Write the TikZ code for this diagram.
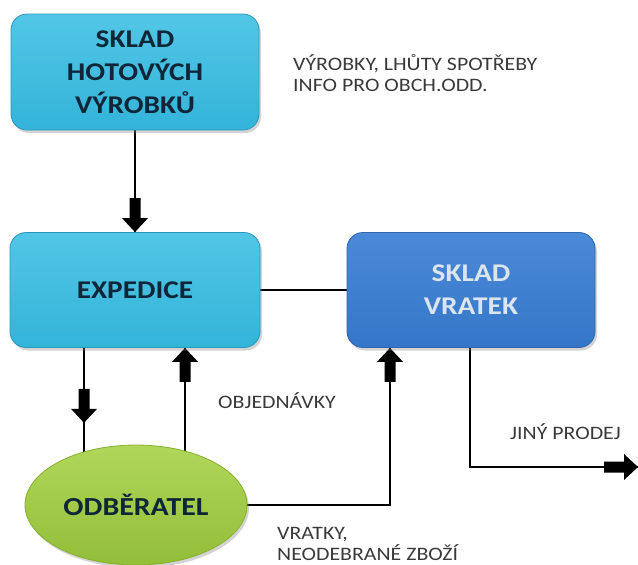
\documentclass[tikz,border=0pt]{standalone}
\usepackage{fontspec}
\setmainfont{Carlito}[FakeStretch=1.15]
\usetikzlibrary{shapes.geometric,shadows,decorations.markings}
\definecolor{cyanbox}{HTML}{33B4D9}
\definecolor{cyantop}{HTML}{52C6E6}
\definecolor{cyanedge}{HTML}{2A98BD}
\definecolor{bluebox}{HTML}{3676C8}
\definecolor{bluetop}{HTML}{4A8AD8}
\definecolor{blueedge}{HTML}{2E67B0}
\definecolor{greenbox}{HTML}{92BE38}
\definecolor{greentop}{HTML}{B0D65A}
\definecolor{greenedge}{HTML}{86B02E}
\definecolor{darktext}{HTML}{0F2638}
\definecolor{lighttext}{HTML}{DCE4EE}
\definecolor{labeltext}{HTML}{3A3A3A}
\pgfdeclarelayer{background}
\pgfsetlayers{background,main}
\tikzset{
  boxbase/.style={rounded corners=16pt, font=\fontsize{25.5}{33}\selectfont\bfseries, align=center,
    inner sep=0pt, drop shadow={opacity=0.35, shadow xshift=2pt, shadow yshift=-3pt}},
  cyanbox/.style={boxbase, draw=cyanedge, line width=0.8pt, top color=cyantop, bottom color=cyanbox, text=darktext},
  bluebox/.style={boxbase, draw=blueedge, line width=0.8pt, top color=bluetop, bottom color=bluebox, text=lighttext},
  greenell/.style={ellipse, inner sep=0pt, draw=greenedge, line width=0.8pt, top color=greentop, bottom color=greenbox,
    text=darktext, font=\fontsize{26}{33}\selectfont\bfseries,
    drop shadow={opacity=0.35, shadow xshift=2pt, shadow yshift=-3pt}},
  conn/.style={draw=black, line width=1.6pt},
  blockarrow/.style={postaction={decorate, decoration={markings, mark=at position #1 with {
    \fill[black] (-34pt,-5.5pt) -- (-14pt,-5.5pt) -- (-14pt,-13pt) -- (0pt,0pt) -- (-14pt,13pt) -- (-14pt,5.5pt) -- (-34pt,5.5pt) -- cycle;}}}},
  lbl/.style={anchor=west, inner sep=0pt, text=labeltext, font=\fontsize{19}{21}\selectfont, align=left}
}
\begin{document}
\begin{tikzpicture}[x=1pt,y=-1pt]
\useasboundingbox (0,0) rectangle (638,565);
\node[cyanbox, minimum width=248pt, minimum height=116pt] (sk) at (135,72) {SKLAD\\HOTOVÝCH\\VÝROBKŮ};
\node[cyanbox, minimum width=250pt, minimum height=115pt] (exp) at (135,290) {EXPEDICE};
\node[bluebox, minimum width=248pt, minimum height=115pt] (vr) at (471,290) {SKLAD\\VRATEK};
\node[greenell, minimum width=222pt, minimum height=120pt] (odb) at (136,505) {ODBĚRATEL};

\coordinate (xa) at (84,0);
\coordinate (xb) at (185,0);
\coordinate (xc) at (390,0);
\coordinate (xd) at (470,0);
\coordinate (out) at (638,467);

\begin{pgfonlayer}{background}
\draw[conn, blockarrow=1] (sk.south) -- (exp.north);
\draw[conn] (exp.east) -- (vr.west);
\draw[conn, blockarrow=75pt] (exp.south -| xa) -- (odb.center -| xa);
\draw[conn, blockarrow=1] (odb.center -| xb) -- (exp.south -| xb);
\draw[conn, blockarrow=1] (odb.east) -| (vr.south -| xc);
\draw[conn, blockarrow=1] (vr.south -| xd) |- (out);
\end{pgfonlayer}

\node[lbl] (l1) at (293,73) {VÝROBKY, LHŮTY SPOTŘEBY\\INFO PRO OBCH.ODD.};
\node[lbl] (l2) at (218,401) {OBJEDNÁVKY};
\node[lbl] (l3) at (510,432) {JINÝ PRODEJ};
\node[lbl] (l4) at (277,544) {VRATKY,\\NEODEBRANÉ ZBOŽÍ};
\end{tikzpicture}
\end{document}
